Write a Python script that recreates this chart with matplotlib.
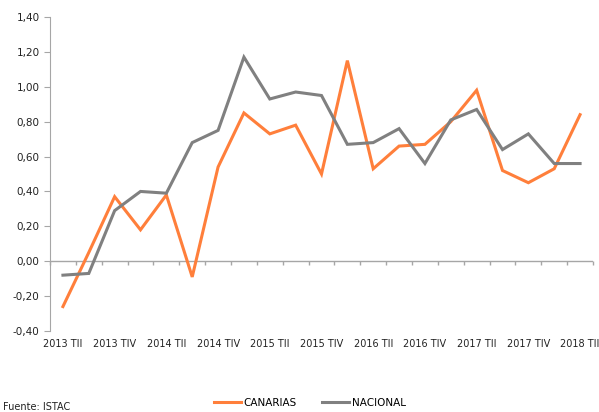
import numpy as np
import matplotlib
matplotlib.use("Agg")
import matplotlib.pyplot as plt
from matplotlib.ticker import FuncFormatter

# quarters 2013 TII .. 2018 TII
years = [2013, 2013, 2013, 2014, 2014, 2014, 2014, 2015, 2015, 2015, 2015,
         2016, 2016, 2016, 2016, 2017, 2017, 2017, 2017, 2018, 2018]
quarters = ["TII", "TIII", "TIV", "TI", "TII", "TIII", "TIV", "TI", "TII", "TIII", "TIV",
            "TI", "TII", "TIII", "TIV", "TI", "TII", "TIII", "TIV", "TI", "TII"]
labels = [f"{y} {q}" for y, q in zip(years, quarters)]

canarias = [-0.26, 0.05, 0.37, 0.18, 0.38, -0.09, 0.54, 0.85, 0.73, 0.78, 0.50,
            1.15, 0.53, 0.66, 0.67, 0.80, 0.98, 0.52, 0.45, 0.53, 0.84]
nacional = [-0.08, -0.07, 0.29, 0.40, 0.39, 0.68, 0.75, 1.17, 0.93, 0.97, 0.95,
            0.67, 0.68, 0.76, 0.56, 0.81, 0.87, 0.64, 0.73, 0.56, 0.56]

orange = "#ff7f3b"
grey = "#808080"
axis_col = "#a6a6a6"

plt.rcParams['font.family'] = ['DejaVu Sans']

fig = plt.figure(figsize=(5.99, 4.12), dpi=100)
ax = fig.add_axes([50/599, 81/412, 543/599, 314/412])

x = np.arange(len(labels))
ax.plot(x, canarias, color=orange, lw=2.2, label="CANARIAS", solid_joinstyle='miter')
ax.plot(x, nacional, color=grey, lw=2.2, label="NACIONAL", solid_joinstyle='miter')

ax.set_xlim(-0.5, len(labels) - 0.5)
ax.set_ylim(-0.4, 1.4)
ax.set_yticks(np.arange(-0.4, 1.41, 0.2))
ax.yaxis.set_major_formatter(FuncFormatter(lambda v, p: f"{v:.2f}".replace(".", ",").replace("-0,00", "0,00")))

for s in ["top", "right", "bottom"]:
    ax.spines[s].set_visible(False)
ax.spines["left"].set_color(axis_col)
ax.tick_params(axis="y", colors=axis_col, labelcolor="#222222", length=4, labelsize=7.5)

ax.set_xticks(x[::2])
ax.set_xticklabels(labels[::2])
ax.tick_params(axis="x", length=0, labelsize=7, labelcolor="#222222", pad=6)

# zero line with category-boundary ticks
ax.axhline(0, color=axis_col, lw=1, zorder=0)
zero_frac = (0 - (-0.4)) / 1.8
sec = ax.secondary_xaxis(zero_frac)
sec.set_xticks(np.arange(-0.5, len(labels), 1.0))
sec.set_xticklabels([])
sec.spines["bottom"].set_visible(False)
sec.tick_params(axis="x", colors=axis_col, length=3, width=1)

fig.legend(loc="center", bbox_to_anchor=(310/599, 1 - 403/412), ncol=2, frameon=False,
           fontsize=7.5, handlelength=2.6, handletextpad=0.3, columnspacing=2.4)
fig.text(3/599, 1 - 407/412, "Fuente: ISTAC", fontsize=7, va="center", color="#222222")

fig.savefig("out.png", dpi=100)
